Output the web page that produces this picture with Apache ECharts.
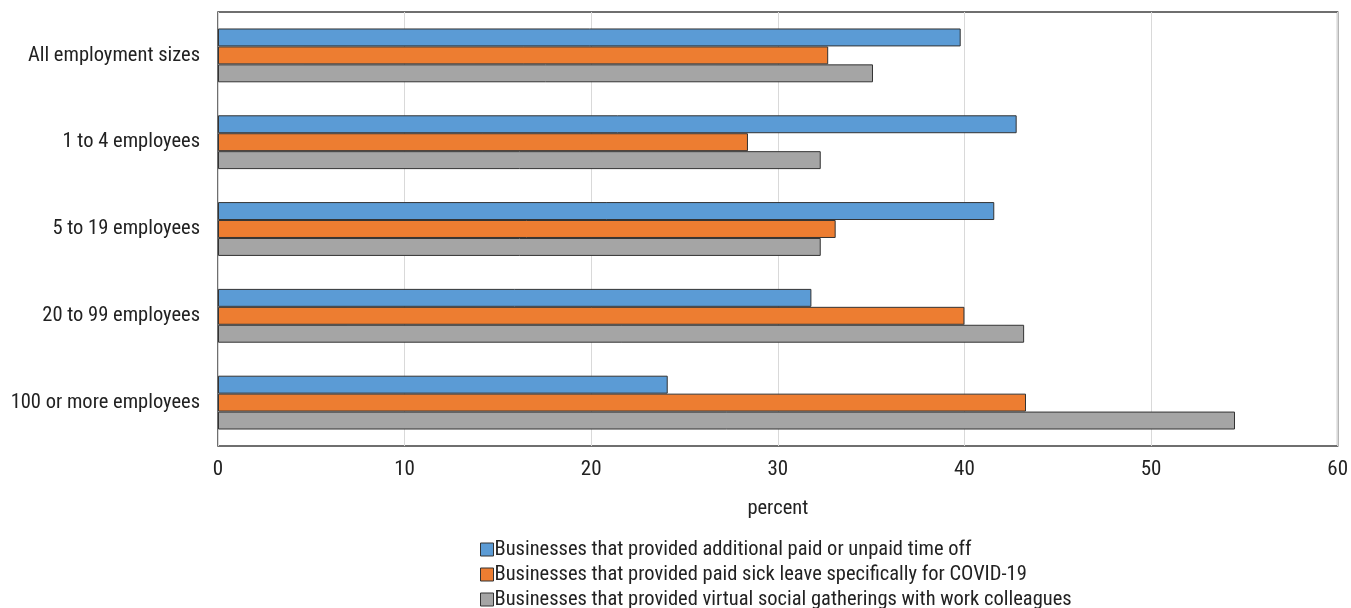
<!DOCTYPE html>
<html>
<head>
<meta charset="utf-8">
<script src="https://cdn.jsdelivr.net/npm/echarts@6/dist/echarts.min.js"></script>
<style>
  html, body { margin: 0; padding: 0; background: #fff; }
  #chart { width: 1351px; height: 608px; }
</style>
</head>
<body>
<div id="chart"></div>
<script>
// Business size groups, listed top to bottom
const categories = [
  'All employment sizes',
  '1 to 4 employees',
  '5 to 19 employees',
  '20 to 99 employees',
  '100 or more employees'
];

const seriesNames = [
  'Businesses that provided additional paid or unpaid time off',
  'Businesses that provided paid sick leave specifically for COVID-19',
  'Businesses that provided virtual social gatherings with work colleagues'
];

// Percent of businesses, in the same order as categories
const timeOff = [39.8, 42.8, 41.6, 31.8, 24.1];
const sickLeave = [32.7, 28.4, 33.1, 40.0, 43.3];
const virtualGatherings = [35.1, 32.3, 32.3, 43.2, 54.5];

const xTicks = [0, 10, 20, 30, 40, 50, 60];

const colors = ['#5b9bd5', '#ed7d31', '#a5a5a5'];
const font = '"Liberation Sans Narrow", "Arial Narrow", "Roboto Condensed", sans-serif';
const textColor = '#222';

const chart = echarts.init(document.getElementById('chart'));

function barSeries(name, data, color) {
  return {
    name: name,
    type: 'bar',
    data: data,
    barGap: '0%',
    barCategoryGap: '38%',
    itemStyle: { color: color, borderColor: '#333', borderWidth: 1 },
    emphasis: { disabled: true }
  };
}

chart.setOption({
  animation: false,
  color: colors,
  grid: {
    left: 218, right: 13, top: 12, bottom: 162,
    show: true, borderColor: '#404040', borderWidth: 1.5,
    containLabel: false
  },
  xAxis: {
    type: 'value',
    min: xTicks[0],
    max: xTicks[xTicks.length - 1],
    interval: 10,
    name: 'percent',
    nameLocation: 'middle',
    nameGap: 52,
    nameTextStyle: { fontFamily: font, fontSize: 20.5, color: textColor },
    axisLine: { show: false },
    axisTick: { show: false },
    axisLabel: { fontFamily: font, fontSize: 21, color: textColor, margin: 13 },
    splitLine: { show: true, lineStyle: { color: '#d9d9d9', width: 1 } }
  },
  yAxis: {
    type: 'category',
    data: categories,
    inverse: true,
    axisLine: { show: false },
    axisTick: { show: false },
    axisLabel: { fontFamily: font, fontSize: 20.5, color: textColor, margin: 18 },
    splitLine: { show: false }
  },
  legend: {
    orient: 'vertical',
    left: 475,
    top: 534,
    height: 100,
    itemWidth: 13,
    itemHeight: 13,
    itemGap: 4,
    icon: 'rect',
    itemStyle: { borderColor: '#333', borderWidth: 1 },
    textStyle: { fontFamily: font, fontSize: 20.5, color: textColor, padding: [0, 0, 0, -4] },
    data: seriesNames
  },
  series: [
    barSeries(seriesNames[0], timeOff, colors[0]),
    barSeries(seriesNames[1], sickLeave, colors[1]),
    barSeries(seriesNames[2], virtualGatherings, colors[2])
  ]
});
</script>
</body>
</html>
